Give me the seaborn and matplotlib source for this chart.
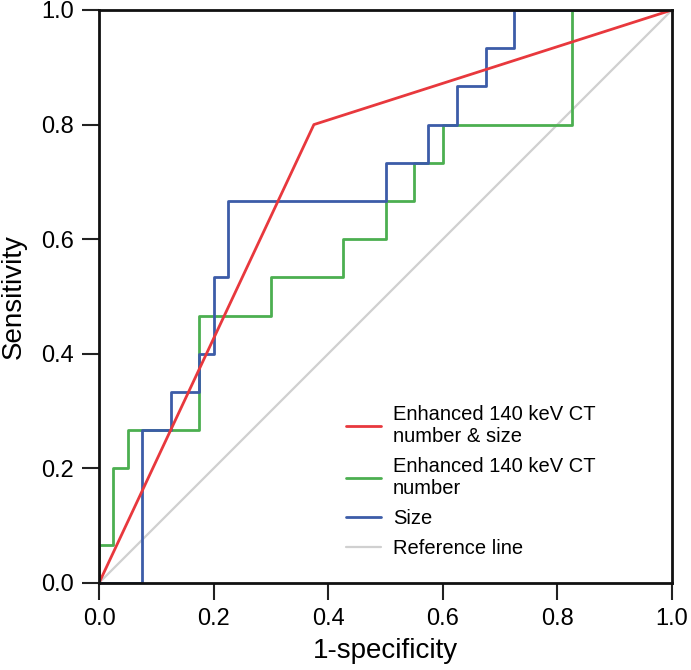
import numpy as np
import pandas as pd
import seaborn as sns
import matplotlib.pyplot as plt

# ROC points, in counts of negatives (n=40) and positives (n=15)
n_neg = 40
n_pos = 15

combined_fp = [0, 15, 40]
combined_tp = [0, 12, 15]

ct_fp = [0, 0, 1, 1, 2, 2, 7, 7, 12, 12, 17, 17, 20, 20, 22, 22, 24, 24, 33, 33, 40]
ct_tp = [0, 1, 1, 3, 3, 4, 4, 7, 7, 8, 8, 9, 9, 10, 10, 11, 11, 12, 12, 15, 15]

size_fp = [0, 3, 3, 5, 5, 7, 7, 8, 8, 9, 9, 20, 20, 23, 23, 25, 25, 27, 27, 29, 29, 40]
size_tp = [0, 0, 4, 4, 5, 5, 6, 6, 8, 8, 10, 10, 11, 11, 12, 12, 13, 13, 14, 14, 15, 15]

labels = ["Enhanced 140 keV CT\nnumber & size", "Enhanced 140 keV CT\nnumber", "Size", "Reference line"]
colors = ["#e8383d", "#4caf50", "#3c5ca8", "#d0d0d0"]
ticks = [0.0, 0.2, 0.4, 0.6, 0.8, 1.0]

frames = []
for lab, fp, tp in zip(labels[:3], [combined_fp, ct_fp, size_fp], [combined_tp, ct_tp, size_tp]):
    frames.append(pd.DataFrame({"fpr": np.array(fp) / n_neg, "tpr": np.array(tp) / n_pos, "curve": lab}))
frames.append(pd.DataFrame({"fpr": [0.0, 1.0], "tpr": [0.0, 1.0], "curve": labels[3]}))
df = pd.concat(frames, ignore_index=True)

sns.set_style("white")
plt.rcParams["font.family"] = ["Liberation Sans", "DejaVu Sans"]
plt.rcParams["text.color"] = "black"
plt.rcParams["axes.labelcolor"] = "black"
plt.rcParams["xtick.color"] = "black"
plt.rcParams["ytick.color"] = "black"

fig = plt.figure(figsize=(6.91, 6.70), dpi=100)
ax = fig.add_axes([0.1433, 0.1299, 0.8292, 0.8552])

palette = dict(zip(labels, colors))
# draw reference first, red on top
for lab in [labels[3], labels[1], labels[2], labels[0]]:
    sub = df[df["curve"] == lab]
    sns.lineplot(data=sub, x="fpr", y="tpr", sort=False, estimator=None,
                 color=palette[lab], lw=2.0 if lab != labels[3] else 1.6, ax=ax, label=lab)

ax.set_xlim(0, 1)
ax.set_ylim(0, 1)
ax.set_xticks(ticks)
ax.set_yticks(ticks)
ax.set_xticklabels([f"{t:.1f}" for t in ticks])
ax.set_yticklabels([f"{t:.1f}" for t in ticks])
ax.tick_params(axis="both", direction="out", length=12, width=1.5, labelsize=17, color="#222222",
               bottom=True, left=True, pad=6)
for s in ax.spines.values():
    s.set_linewidth(2)
    s.set_color("#111111")
ax.set_xlabel("1-specificity", fontsize=20, labelpad=6)
ax.set_ylabel("Sensitivity", fontsize=20, labelpad=10)

handles, labs = ax.get_legend_handles_labels()
order = [labs.index(l) for l in labels]
ax.legend([handles[i] for i in order], [labs[i] for i in order], loc="lower right",
          bbox_to_anchor=(0.898, 0.012), frameon=False, fontsize=14.5, handlelength=1.7,
          labelspacing=0.55, handletextpad=0.6)

fig.savefig("out.png", dpi=100)
